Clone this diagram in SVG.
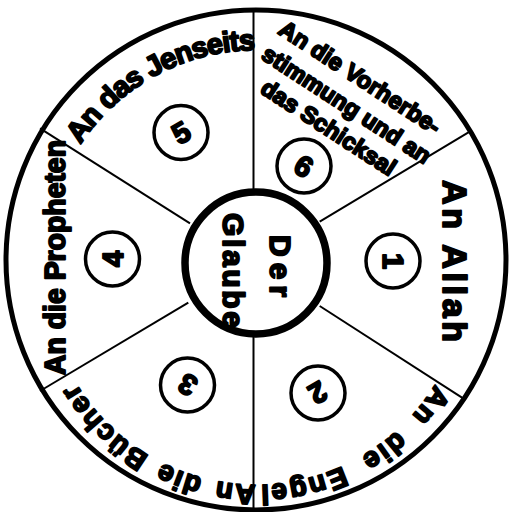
<svg xmlns="http://www.w3.org/2000/svg" width="516" height="512" viewBox="0 0 516 512">
<style>
.t{font-family:"Liberation Sans",Arial,sans-serif;font-weight:bold;fill:#000;stroke:#000;stroke-width:1.9;stroke-linejoin:round}
.ln{stroke:#000;stroke-width:2;fill:none}
.nc{fill:#fff;stroke:#000;stroke-width:3.5}
</style>
<defs>
<path id="arcTop" d="M 46,260 A 210 210 0 0 1 466,260"/>
<path id="arcBot" d="M 466,275 A 210 210 0 0 1 46,275"/>
</defs>
<rect width="516" height="512" fill="#fff"/>
<g id="outer"><circle cx="256" cy="260" r="250" fill="#fff" stroke="#000" stroke-width="5"/></g>
<g id="connectors">
<line class="ln" x1="253.5" y1="10" x2="253.5" y2="192"/>
<line class="ln" x1="253.5" y1="335" x2="253.5" y2="510"/>
<line class="ln" x1="319.7" y1="221.7" x2="469.7" y2="131.7"/>
<line class="ln" x1="40" y1="128.3" x2="190" y2="223.3"/>
<line class="ln" x1="188.3" y1="302.7" x2="40" y2="391"/>
<line class="ln" x1="319.7" y1="306" x2="464.7" y2="399.3"/>
</g>
<g id="center">
<circle cx="256" cy="263" r="71" fill="#fff" stroke="#000" stroke-width="7.5"/>
<text class="t" font-size="30" transform="translate(270,235) rotate(90)" textLength="62" lengthAdjust="spacing">Der</text>
<text class="t" font-size="30" transform="translate(223,213) rotate(90)" textLength="115" lengthAdjust="spacing">Glaube</text>
</g>
<g id="sector1">
<circle class="nc" cx="393" cy="261" r="27"/>
<text class="t" font-size="29" text-anchor="middle" transform="translate(393,261) rotate(90)" y="10.5">1</text>
<text class="t" font-size="34" transform="translate(443,180) rotate(90)" textLength="162" lengthAdjust="spacing">An Allah</text>
</g>
<g id="sector2">
<circle class="nc" cx="318" cy="393" r="27"/>
<text class="t" font-size="29" text-anchor="middle" transform="translate(318,393) rotate(150)" y="10.5">2</text>
<text class="t" font-size="28" letter-spacing="2" word-spacing="9"><textPath href="#arcBot" startOffset="115">An die Engel</textPath></text>
</g>
<g id="sector3">
<circle class="nc" cx="187.5" cy="385" r="27"/>
<text class="t" font-size="29" text-anchor="middle" transform="translate(187.5,385) rotate(210)" y="10.5">3</text>
<text class="t" font-size="28" letter-spacing="1.5" word-spacing="4"><textPath href="#arcBot" startOffset="330">An die Bücher</textPath></text>
</g>
<g id="sector4">
<circle class="nc" cx="112.5" cy="259" r="27"/>
<text class="t" font-size="29" text-anchor="middle" transform="translate(112.5,259) rotate(-90)" y="10.5">4</text>
<text class="t" font-size="29" transform="translate(65,375) rotate(-90)" textLength="235" lengthAdjust="spacingAndGlyphs">An die Propheten</text>
</g>
<g id="sector5">
<circle class="nc" cx="181" cy="132.5" r="27"/>
<text class="t" font-size="29" text-anchor="middle" transform="translate(181,132.5) rotate(-30)" y="10.5">5</text>
<text class="t" font-size="29" letter-spacing="-1"><textPath href="#arcTop" startOffset="122">An das Jenseits</textPath></text>
</g>
<g id="sector6">
<circle class="nc" cx="304" cy="166" r="27"/>
<text class="t" font-size="29" text-anchor="middle" transform="translate(304,166) rotate(30)" y="10.5">6</text>
<text class="t" font-size="23.5" transform="translate(277,33) rotate(33)">An die Vorherbe-</text>
<text class="t" font-size="23.5" transform="translate(260,58) rotate(33)">stimmung und an</text>
<text class="t" font-size="23.5" transform="translate(259,92) rotate(33)">das Schicksal</text>
</g>
</svg>
